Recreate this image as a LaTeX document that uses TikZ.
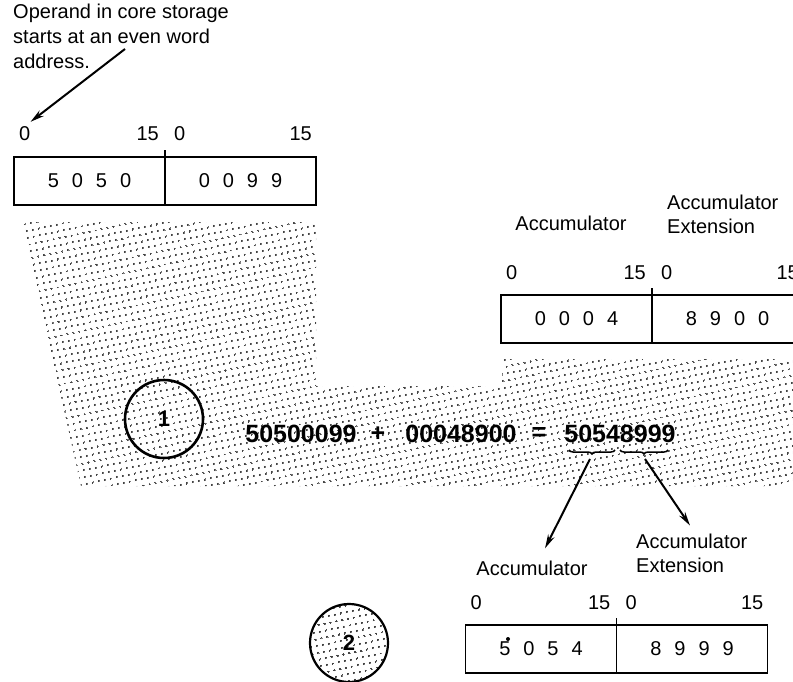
\documentclass[tikz,border=0pt]{standalone}
\usepackage{fontspec}
\setmainfont{Liberation Sans}
\usetikzlibrary{positioning,arrows.meta,patterns.meta,decorations.pathreplacing}

\tikzset{
  halfword/.style={draw, line width=1.6pt, minimum width=151pt, minimum height=48pt,
    inner sep=0pt, outer sep=0pt, font=\fontsize{20}{24}\selectfont},
  bitlbl/.style={inner sep=0pt, font=\fontsize{20}{24}\selectfont},
  regname/.style={inner sep=0pt, align=left, font=\fontsize{20}{24}\selectfont},
  sumtxt/.style={inner sep=0pt, font=\bfseries\fontsize{25}{30}\selectfont},
  stagecirc/.style={draw, circle, line width=2.6pt, minimum size=78pt, inner sep=0pt,
    font=\bfseries\fontsize{22}{26}\selectfont},
  dotfill/.style={pattern={Dots[distance=6.5pt, radius=1.2pt, angle=12]}},
  ptr/.style={line width=2pt, -{Stealth[length=14pt, width=7pt]}},
  wavebrace/.style={decorate, decoration={brace, mirror, amplitude=4pt}, line width=1.5pt},
}
\newcommand{\wordval}[4]{#1\hspace{13pt}#2\hspace{13pt}#3\hspace{13pt}#4}

\begin{document}
\begin{tikzpicture}[x=1pt, y=-1pt]
\clip (0,0) rectangle (793,682);

% Dotted band behind the addition
\path[dotfill] (22,222) -- (316,222) -- (316,386) -- (502,386) -- (502,359)
  -- (800,359) -- (800,486) -- (81,486) -- cycle;

% Note on the operand
\node[regname, anchor=north west, font=\fontsize{20}{25}\selectfont] (note) at (13,4)
  {Operand in core storage\\starts at an even word\\address.};

% Operand in core storage
\node[halfword] (ophi) at (89.5,181) {\wordval 5050};
\node[halfword, right=0pt of ophi] (oplo) {\wordval 0099};

% Accumulator and extension before the add
\node[halfword] (acchi) at (576.5,319) {\wordval 0004};
\node[halfword, right=0pt of acchi] (acclo) {\wordval 8900};
\node[regname, anchor=base] (accname) at (571,230) {Accumulator};
\node[regname, anchor=north west] (accext) at (667,194.5) {Accumulator\\Extension};

% Accumulator and extension after the add
\node[halfword] (reshi) at (541,649) {\wordval 5054};
\node[halfword, right=0pt of reshi] (reslo) {\wordval 8999};
\node[regname, anchor=base] (resname) at (532,575) {Accumulator};
\node[regname, anchor=north west] (resext) at (636,533.5) {Accumulator\\Extension};
\fill (508,639) circle (2pt);

% Bit numbers and divider ticks
\foreach \w in {op,acc,res} {
  \node[bitlbl, anchor=base west] (\w b0) at ([xshift=5pt, yshift=16pt]\w hi.north west) {0};
  \node[bitlbl, anchor=base east] (\w b15) at ([xshift=-6pt, yshift=16pt]\w hi.north east) {15};
  \node[bitlbl, anchor=base west] (\w c0) at ([xshift=9pt, yshift=16pt]\w lo.north west) {0};
  \node[bitlbl, anchor=base east] (\w c15) at ([xshift=-4pt, yshift=16pt]\w lo.north east) {15};
  \draw[line width=1.6pt] (\w hi.north east) -- ++(0,-7);
}

\coordinate (evenpt) at (125,49);
\draw[ptr] (evenpt) -- ([yshift=5pt]opb0.north east);

% Stage markers
\node[stagecirc] (stage1) at (164,419) {1};
\node[stagecirc, dotfill, line width=2.2pt] (stage2) at (349,643) {2};

% The addition
\node[sumtxt] (sumA) at (301,434) {50500099};
\node[sumtxt] (plus) at (378,434) {+};
\node[sumtxt] (sumB) at (461,434) {00048900};
\node[sumtxt] (equal) at (539,434) {=};
\node[sumtxt] (sumR) at (620,434) {50548999};

% Braces under the result halves
\coordinate (hiL) at (569,450);
\coordinate (hiR) at (615,450);
\coordinate (loL) at (620,450);
\coordinate (loR) at (668,450);
\draw[wavebrace] (hiL) -- (hiR);
\draw[wavebrace] (loL) -- (loR);
\coordinate (hitip) at (590,459);
\coordinate (lotip) at (645,459);
\draw[ptr] (hitip) -- ([xshift=13pt, yshift=12pt]resname.north);
\draw[ptr] (lotip) -- ([xshift=54pt, yshift=8pt]resext.north west);

\end{tikzpicture}
\end{document}
